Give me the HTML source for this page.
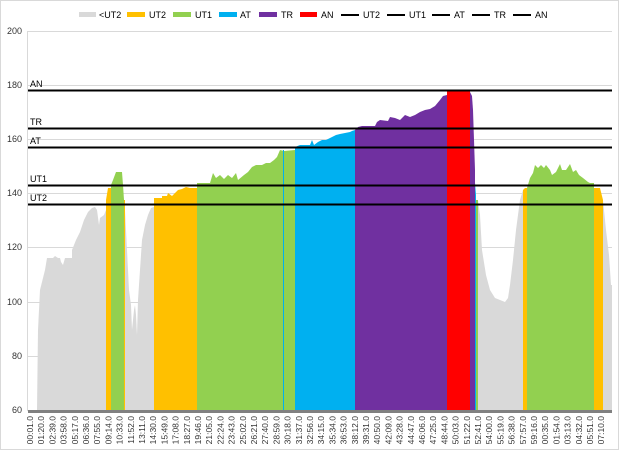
<!DOCTYPE html>
<html><head><meta charset="utf-8"><style>
html,body{margin:0;padding:0;background:#fff;}
svg{display:block;font-family:"Liberation Sans",sans-serif;}
</style></head><body>
<svg width="620" height="451" viewBox="0 0 620 451" xmlns="http://www.w3.org/2000/svg">
<rect x="0.5" y="0.5" width="618" height="449" fill="#fff" stroke="#d9d9d9"/>
<!-- gridlines -->
<g stroke="#d9d9d9" stroke-width="1">
<line x1="27" y1="31.5" x2="612" y2="31.5"/>
<line x1="27" y1="85.5" x2="612" y2="85.5"/>
<line x1="27" y1="139.5" x2="612" y2="139.5"/>
<line x1="27" y1="193.5" x2="612" y2="193.5"/>
<line x1="27" y1="247.5" x2="612" y2="247.5"/>
<line x1="27" y1="302.5" x2="612" y2="302.5"/>
<line x1="27" y1="356.5" x2="612" y2="356.5"/>
<line x1="27.5" y1="31" x2="27.5" y2="411"/>
</g>
<g font-size="9" fill="#333" text-anchor="end">
<text x="22" y="34">200</text><text x="22" y="88">180</text><text x="22" y="142">160</text>
<text x="22" y="196">140</text><text x="22" y="250">120</text><text x="22" y="305">100</text>
<text x="22" y="359">80</text><text x="22" y="413">60</text>
</g>
<!-- gray -->
<polygon fill="#d9d9d9" points="37,410 38,330 40,290 42,282 43,278 45,270 47,258 53,258 55,256 58,258 60,258 61,262 63,265 65,258 72,258 72,250 76,240 80,232 84,220 88,212 92,208 95,207 97,210 99,225 100,218 104,215 106,210 106,410"/>
<polygon fill="#d9d9d9" points="124,410 125,210 127,250 129,290 131,305 132,330 134,310 135,305 136,315 137,335 138,300 140,270 142,240 145,225 148,215 151,208 154,207 154,410"/>
<polygon fill="#d9d9d9" points="478,410 478,200 480,215 482,250 486,275 490,290 495,298 505,302 508,298 510,285 513,260 516,230 520,200 523,190 523,410"/>
<polygon fill="#d9d9d9" points="603,410 603,200 606,230 609,255 611,285 612,285 612,410"/>
<!-- orange -->
<polygon fill="#ffc000" points="106,410 106,200 108,188 111,188 111,410"/>
<rect x="123" y="200" width="2" height="210" fill="#ffc000"/>
<polygon fill="#ffc000" points="154,410 154,198 162,198 162,196 167,196 168,193 172,196 175,193 178,190 182,189 186,187 190,188 193,188 197,188 197,410"/>
<polygon fill="#ffc000" points="523,410 523,190 525,188 527,188 527,410"/>
<polygon fill="#ffc000" points="594,410 594,188 600,188 603,200 603,410"/>
<!-- green -->
<polygon fill="#92d050" points="111,410 111,185 113,180 116,172 122,172 123,185 124,200 124,410"/>
<polygon fill="#92d050" points="197,410 197,183 210,183 213,173 216,178 220,175 224,179 228,175 232,178 236,173 238,180 244,175 248,172 252,167 256,165 258,165 262,165 266,163 270,163 274,160 277,157 280,150 284,151 295,150 295,410"/>
<polygon fill="#92d050" points="527,410 527,188 530,178 533,173 535,165 538,168 541,165 544,168 546,165 550,170 552,175 556,172 560,164 562,170 566,170 570,164 573,172 576,170 579,175 583,178 588,182 590,183 594,183 594,410"/>
<polygon fill="#92d050" points="476,410 476,200 478,200 478,410"/>
<!-- blue -->
<polygon fill="#00b0f0" points="295,410 295,147 300,145 310,145 312,140 314,145 318,142 322,140 326,140 330,138 336,135 340,134 345,133 350,132 352,131 355,130 355,410"/>
<line x1="283.5" y1="150" x2="283.5" y2="410" stroke="#00b0f0"/>
<line x1="357.5" y1="130" x2="357.5" y2="410" stroke="#00b0f0"/>
<polygon fill="#00b0f0" points="474,410 474,170 476,195 476,410"/>
<!-- purple -->
<polygon fill="#7030a0" points="355,410 355,130 358,127 362,126 375,126 377,122 380,120 388,121 390,117 395,118 400,120 405,115 410,117 415,115 420,112 425,110 430,109 435,106 440,100 443,96 447,95 447,410"/>
<polygon fill="#7030a0" points="470,410 470,92 472,96 473,110 474,140 475,170 475,410"/>
<!-- red -->
<polygon fill="#ff0000" points="447,410 447,91 470,91 470,410"/>
<!-- threshold lines -->
<g stroke="#000" stroke-width="2">
<line x1="28" y1="90.5" x2="612" y2="90.5"/>
<line x1="28" y1="128.5" x2="612" y2="128.5"/>
<line x1="28" y1="147.5" x2="612" y2="147.5"/>
<line x1="28" y1="185.5" x2="612" y2="185.5"/>
<line x1="28" y1="204.5" x2="612" y2="204.5"/>
</g>
<g font-size="9" fill="#000">
<text x="30" y="87">AN</text><text x="30" y="125">TR</text><text x="30" y="144">AT</text>
<text x="30" y="182">UT1</text><text x="30" y="201">UT2</text>
</g>
<!-- x axis bar -->
<rect x="28" y="410" width="584" height="3" fill="#808080"/>
<!-- legend -->
<g font-size="9" fill="#000">
<rect x="79" y="12" width="17" height="5" fill="#d9d9d9"/><text x="99" y="18">&lt;UT2</text>
<rect x="127" y="12" width="18" height="5" fill="#ffc000"/><text x="149" y="18">UT2</text>
<rect x="173" y="12" width="18" height="5" fill="#92d050"/><text x="195" y="18">UT1</text>
<rect x="219" y="12" width="18" height="5" fill="#00b0f0"/><text x="240" y="18">AT</text>
<rect x="259" y="12" width="18" height="5" fill="#7030a0"/><text x="281" y="18">TR</text>
<rect x="300" y="12" width="17" height="5" fill="#ff0000"/><text x="321" y="18">AN</text>
<rect x="341" y="14" width="18" height="2" fill="#000"/><text x="363" y="18">UT2</text>
<rect x="387" y="14" width="18" height="2" fill="#000"/><text x="409" y="18">UT1</text>
<rect x="432" y="14" width="18" height="2" fill="#000"/><text x="454" y="18">AT</text>
<rect x="472" y="14" width="18" height="2" fill="#000"/><text x="494" y="18">TR</text>
<rect x="513" y="14" width="18" height="2" fill="#000"/><text x="535" y="18">AN</text>
</g>
<!-- x labels -->
<g font-size="8.5" fill="#333" id="xl">
<text transform="translate(33,416) rotate(-90)" text-anchor="end">00:01.0</text>
<text transform="translate(44.2,416) rotate(-90)" text-anchor="end">01:20.0</text>
<text transform="translate(55.4,416) rotate(-90)" text-anchor="end">02:39.0</text>
<text transform="translate(66.6,416) rotate(-90)" text-anchor="end">03:58.0</text>
<text transform="translate(77.8,416) rotate(-90)" text-anchor="end">05:17.0</text>
<text transform="translate(89,416) rotate(-90)" text-anchor="end">06:36.0</text>
<text transform="translate(100.2,416) rotate(-90)" text-anchor="end">07:55.0</text>
<text transform="translate(111.4,416) rotate(-90)" text-anchor="end">09:14.0</text>
<text transform="translate(122.6,416) rotate(-90)" text-anchor="end">10:33.0</text>
<text transform="translate(133.8,416) rotate(-90)" text-anchor="end">11:52.0</text>
<text transform="translate(145,416) rotate(-90)" text-anchor="end">13:11.0</text>
<text transform="translate(156.2,416) rotate(-90)" text-anchor="end">14:30.0</text>
<text transform="translate(167.4,416) rotate(-90)" text-anchor="end">15:49.0</text>
<text transform="translate(178.6,416) rotate(-90)" text-anchor="end">17:08.0</text>
<text transform="translate(189.8,416) rotate(-90)" text-anchor="end">18:27.0</text>
<text transform="translate(201,416) rotate(-90)" text-anchor="end">19:46.0</text>
<text transform="translate(212.2,416) rotate(-90)" text-anchor="end">21:05.0</text>
<text transform="translate(223.4,416) rotate(-90)" text-anchor="end">22:24.0</text>
<text transform="translate(234.6,416) rotate(-90)" text-anchor="end">23:43.0</text>
<text transform="translate(245.8,416) rotate(-90)" text-anchor="end">25:02.0</text>
<text transform="translate(257,416) rotate(-90)" text-anchor="end">26:21.0</text>
<text transform="translate(268.2,416) rotate(-90)" text-anchor="end">27:40.0</text>
<text transform="translate(279.4,416) rotate(-90)" text-anchor="end">28:59.0</text>
<text transform="translate(290.6,416) rotate(-90)" text-anchor="end">30:18.0</text>
<text transform="translate(301.8,416) rotate(-90)" text-anchor="end">31:37.0</text>
<text transform="translate(313,416) rotate(-90)" text-anchor="end">32:56.0</text>
<text transform="translate(324.2,416) rotate(-90)" text-anchor="end">34:15.0</text>
<text transform="translate(335.4,416) rotate(-90)" text-anchor="end">35:34.0</text>
<text transform="translate(346.6,416) rotate(-90)" text-anchor="end">36:53.0</text>
<text transform="translate(357.8,416) rotate(-90)" text-anchor="end">38:12.0</text>
<text transform="translate(369,416) rotate(-90)" text-anchor="end">39:31.0</text>
<text transform="translate(380.2,416) rotate(-90)" text-anchor="end">40:50.0</text>
<text transform="translate(391.4,416) rotate(-90)" text-anchor="end">42:09.0</text>
<text transform="translate(402.6,416) rotate(-90)" text-anchor="end">43:28.0</text>
<text transform="translate(413.8,416) rotate(-90)" text-anchor="end">44:47.0</text>
<text transform="translate(425,416) rotate(-90)" text-anchor="end">46:06.0</text>
<text transform="translate(436.2,416) rotate(-90)" text-anchor="end">47:25.0</text>
<text transform="translate(447.4,416) rotate(-90)" text-anchor="end">48:44.0</text>
<text transform="translate(458.6,416) rotate(-90)" text-anchor="end">50:03.0</text>
<text transform="translate(469.8,416) rotate(-90)" text-anchor="end">51:22.0</text>
<text transform="translate(481,416) rotate(-90)" text-anchor="end">52:41.0</text>
<text transform="translate(492.2,416) rotate(-90)" text-anchor="end">54:00.0</text>
<text transform="translate(503.4,416) rotate(-90)" text-anchor="end">55:19.0</text>
<text transform="translate(514.6,416) rotate(-90)" text-anchor="end">56:38.0</text>
<text transform="translate(525.8,416) rotate(-90)" text-anchor="end">57:57.0</text>
<text transform="translate(537,416) rotate(-90)" text-anchor="end">59:16.0</text>
<text transform="translate(548.2,416) rotate(-90)" text-anchor="end">00:35.0</text>
<text transform="translate(559.4,416) rotate(-90)" text-anchor="end">01:54.0</text>
<text transform="translate(570.6,416) rotate(-90)" text-anchor="end">03:13.0</text>
<text transform="translate(581.8,416) rotate(-90)" text-anchor="end">04:32.0</text>
<text transform="translate(593,416) rotate(-90)" text-anchor="end">05:51.0</text>
<text transform="translate(604.2,416) rotate(-90)" text-anchor="end">07:10.0</text>
</g>
</svg>
</body></html>
